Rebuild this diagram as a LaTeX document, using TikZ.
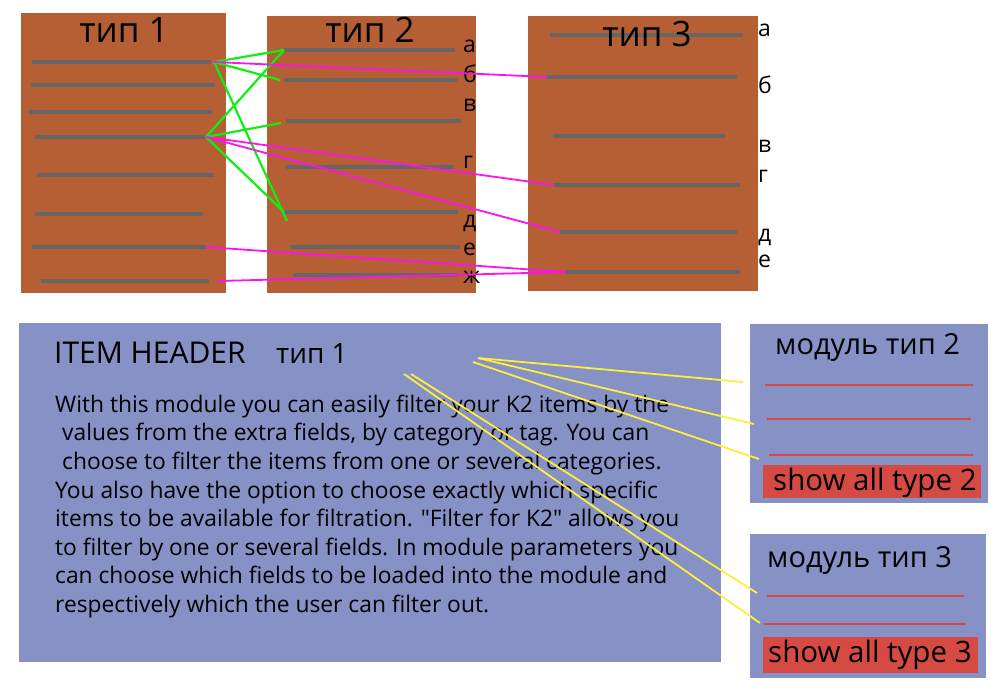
\documentclass[tikz,border=0pt]{standalone}
\usepackage{fontspec}
\setmainfont{Open Sans}
\usetikzlibrary{positioning}

\definecolor{panelbrown}{HTML}{B65F35}
\definecolor{bargray}{HTML}{666666}
\definecolor{panelblue}{HTML}{8691C6}
\definecolor{modred}{HTML}{D54A42}
\definecolor{linkgreen}{HTML}{11EE11}
\definecolor{linkpink}{HTML}{FF11EE}
\definecolor{linkyellow}{HTML}{FFEF3A}

\begin{document}
\begin{tikzpicture}[x=1pt,y=-1pt,
    bar/.style={bargray,line width=4.6pt},
    greenlink/.style={linkgreen,line width=2.2pt},
    pinklink/.style={linkpink,line width=1.8pt},
    yellowlink/.style={linkyellow,line width=1.8pt},
    redline/.style={modred,line width=2.4pt},
    txt/.style={anchor=base west,inner sep=0pt},
    letter/.style={txt,font=\fontsize{23}{23}\selectfont},
    title/.style={anchor=base,inner sep=0pt,font=\fontsize{35}{35}\selectfont},
    bodyline/.style={txt,font=\fontsize{22.8}{22.8}\selectfont}]
  \useasboundingbox (0,0) rectangle (999,693);
  % top panels
  \fill[panelbrown] (21,13) rectangle (226,293);
  \fill[panelbrown] (267,16) rectangle (476,293);
  \fill[panelbrown] (528,16) rectangle (758,291);
  \foreach \i/\a/\b/\y in {1/32/211/62, 2/31/215/85, 3/29/212/112, 4/35/205/137,
      5/37/214/175, 6/35/203/214, 7/32/206/247, 8/41/209/281}
    \draw[bar] (\a,\y) coordinate (one\i w) -- (\b,\y) coordinate (one\i e);
  \foreach \i/\a/\b/\y in {1/284/455/50, 2/284/457/80, 3/286/461/121, 4/286/454/167,
      5/284/458/212, 6/290/460/247, 7/293/457/275}
    \draw[bar] (\a,\y) coordinate (two\i w) -- (\b,\y) coordinate (two\i e);
  \foreach \i/\a/\b/\y in {1/550/743/35, 2/547/737/77, 3/553/725/136, 4/554/740/185,
      5/560/737/232, 6/566/740/272}
    \draw[bar] (\a,\y) coordinate (three\i w) -- (\b,\y) coordinate (three\i e);
  \node[title] (type1) at (124,43) {тип 1};
  \node[title] (type2) at (370,43) {тип 2};
  \node[title] (type3) at (647,47) {тип 3};
  \foreach \n/\c/\y in {a/а/53, b/б/82, v/в/111, g/г/168, d/д/227, e/е/255, zh/ж/283}
    \node[letter] (two\n) at (463,\y) {\c};
  \foreach \n/\c/\y in {a/а/37, b/б/94, v/в/152, g/г/182, d/д/241, e/е/267}
    \node[letter] (three\n) at (758,\y) {\c};
  % links
  \coordinate (hubA) at (214,62);
  \coordinate (hubB) at (206,137);
  \coordinate (endA) at (280,80);
  \coordinate (endB) at (287,221);
  \coordinate (endC) at (281,123);
  \coordinate (startE) at (218,281);
  \draw[greenlink] (hubA) -- (two1w);
  \draw[greenlink] (hubA) -- (endA);
  \draw[greenlink] (hubA) -- (endB);
  \draw[greenlink] (hubB) -- (two1w);
  \draw[greenlink] (hubB) -- (endC);
  \draw[greenlink] (hubB) -- (two5w);
  \draw[pinklink] (hubA) -- (three2w);
  \draw[pinklink] (hubB) -- (three4w);
  \draw[pinklink] (hubB) -- (three5w);
  \draw[pinklink] (one7e) -- (three6w);
  \draw[pinklink] (startE) -- (three6w);
  % bottom panels
  \fill[panelblue] (19,323) rectangle (721,662);
  \fill[panelblue] (750,324) rectangle (988,503);
  \fill[panelblue] (750,534) rectangle (986,678);
  \node[txt,font=\fontsize{30}{30}\selectfont] (header) at (54,363) {ITEM HEADER};
  \node[txt,font=\fontsize{28}{28}\selectfont] (headertype) at (276,363) {тип 1};
  \foreach \i/\x/\y/\t in {1/55/412/{With this module you can easily filter your K2 items by the},
      2/62/440/{values from the extra fields, by category or tag. You can},
      3/62/469/{choose to filter the items from one or several categories.},
      4/55/498/{You also have the option to choose exactly which specific},
      5/55/526/{items to be available for filtration. \textquotedbl Filter for K2\textquotedbl{} allows you},
      6/55/555/{to filter by one or several fields. In module parameters you},
      7/55/583/{can choose which fields to be loaded into the module and},
      8/55/612/{respectively which the user can filter out.}}
    \node[bodyline] (body\i) at (\x,\y) {\t};
  \node[txt,font=\fontsize{29}{29}\selectfont] (mod2) at (775,354) {модуль тип 2};
  \foreach \i/\a/\b/\y in {1/765/973/385, 2/767/971/419, 3/769/973/455}
    \draw[redline] (\a,\y) coordinate (mtwo\i w) -- (\b,\y);
  \fill[modred] (763,465) rectangle (981,498);
  \node[txt,font=\fontsize{29.5}{29.5}\selectfont] (show2) at (773,490) {show all type 2};
  \node[txt,font=\fontsize{29}{29}\selectfont] (mod3) at (767,567) {модуль тип 3};
  \foreach \i/\a/\b/\y in {1/767/964/596, 2/764/966/624}
    \draw[redline] (\a,\y) coordinate (mthree\i w) -- (\b,\y);
  \fill[modred] (763,637) rectangle (978,673);
  \node[txt,font=\fontsize{29.5}{29.5}\selectfont] (show3) at (768,662) {show all type 3};
  % yellow links
  \coordinate (srcA) at (478,358);
  \coordinate (srcB) at (473,362);
  \coordinate (srcC) at (411,374);
  \coordinate (srcD) at (404,374);
  \coordinate (dstA) at (743,382);
  \coordinate (dstB) at (754,424);
  \coordinate (dstC) at (759,459);
  \coordinate (dstD) at (757,593);
  \coordinate (dstE) at (760,623);
  \draw[yellowlink] (srcA) -- (dstA);
  \draw[yellowlink] (srcA) -- (dstB);
  \draw[yellowlink] (srcB) -- (dstC);
  \draw[yellowlink] (srcC) -- (dstD);
  \draw[yellowlink] (srcD) -- (dstE);
\end{tikzpicture}
\end{document}
